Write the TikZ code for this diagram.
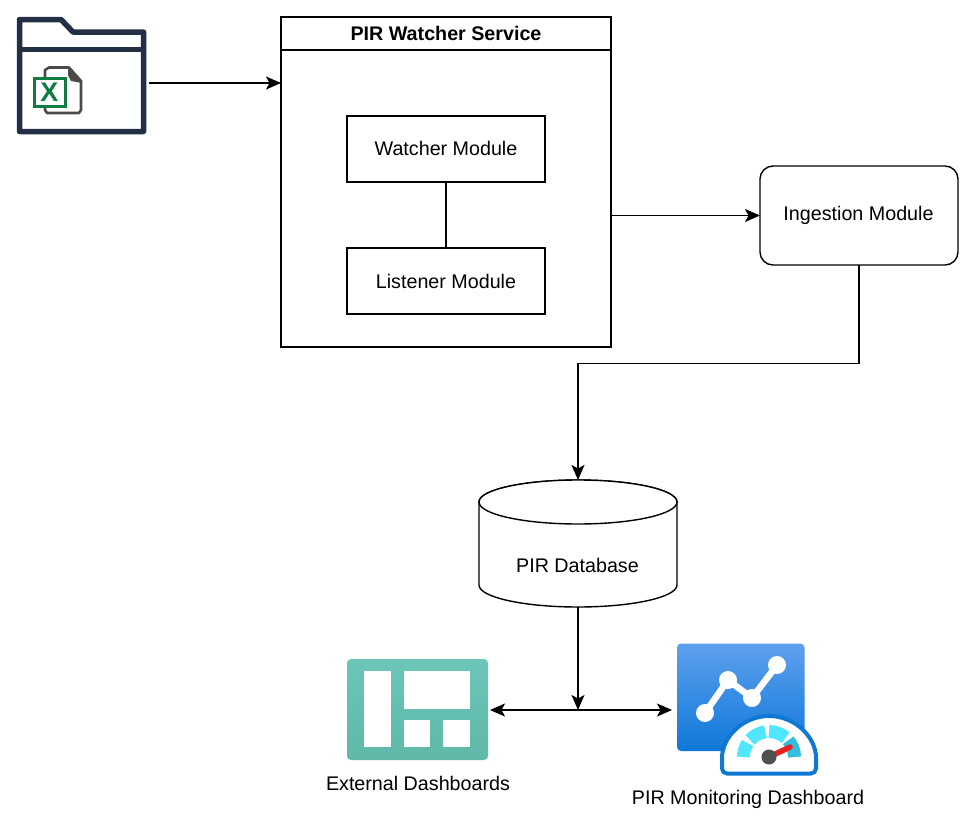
\documentclass[tikz,border=0pt]{standalone}
\usepackage{fontspec}
\setmainfont{Liberation Sans}
\usetikzlibrary{arrows.meta,calc}
\definecolor{fold}{HTML}{232F45}
\definecolor{xlgreen}{HTML}{107C41}
\definecolor{xlgrey}{HTML}{4A4A48}
\definecolor{teal1}{HTML}{6CC7B8}
\definecolor{teal2}{HTML}{5FB8A8}
\definecolor{blue1}{HTML}{5EA0EF}
\definecolor{blue2}{HTML}{0F78D8}
\definecolor{gblue}{HTML}{0F78D4}
\definecolor{gcyan}{HTML}{50E6FF}
\definecolor{gcyan2}{HTML}{32BEDD}
\definecolor{gdark}{HTML}{505050}
\definecolor{gred}{HTML}{E62323}
\tikzset{
  txt/.style={font=\fontsize{19.7}{24}\selectfont, text=black},
  boxn/.style={draw=black, line width=1.4pt, fill=white, inner sep=0pt, outer sep=0pt, txt},
  ghost/.style={inner sep=0pt, outer sep=0pt},
  conn/.style={draw=black, line width=1.4pt},
  arr/.style={conn, -{Stealth[length=15pt,width=13pt,inset=3.5pt]}},
  darr/.style={conn, {Stealth[length=15pt,width=13pt,inset=3.5pt]}-{Stealth[length=15pt,width=13pt,inset=3.5pt]}},
  seg/.style={line width=13pt},
}
\begin{document}
\begin{tikzpicture}[x=1pt,y=-1pt]
\useasboundingbox (0,0) rectangle (975,828);

% folder icon
\node[ghost, minimum width=132, minimum height=117] (folder) at (81.5,75.5) {};
\draw[fold, line width=5.5pt, line join=round]
  (19.5,19.5) -- (61,19.5) -- (73,32) -- (143.5,32) -- (143.5,131.5) -- (19.5,131.5) -- cycle;
\draw[fold, line width=5.5pt] (19.5,49.5) -- (143.5,49.5);
\draw[xlgrey, line width=2.6pt, line join=round, fill=white]
  (49,67.5) -- (69,67.5) -- (81,81) -- (81,110) -- (79,113) -- (47,113) -- (45,110) -- (45,70) -- cycle;
\fill[xlgrey] (68,67) -- (82,81) -- (82,83) -- (71,81) -- (68,75) -- cycle;
\draw[xlgreen, line width=3pt, fill=white] (34.5,78) rectangle (65,106.5);
\node[ghost, font=\fontsize{27}{27}\selectfont\bfseries, text=xlgreen] (xl) at (49.5,92) {X};

% service
\node[boxn, minimum width=330, minimum height=330] (service) at (446,182) {};
\node[boxn, minimum width=330, minimum height=33, font=\fontsize{19.7}{24}\selectfont\bfseries] (title) at (446,33.5) {PIR Watcher Service};
\node[boxn, minimum width=198, minimum height=66] (watcher) at (446,149) {\raisebox{1pt}{Watcher Module}};
\node[boxn, minimum width=198, minimum height=66] (listener) at (446,281) {Listener Module};
\node[boxn, rounded corners=13pt, minimum width=198, minimum height=99] (ingest) at (859,215.5) {\hspace{-1pt}Ingestion Module};

% database
\node[ghost, minimum width=198, minimum height=127] (db) at (578,543.5) {};
\draw[black, line width=1.4pt, fill=white]
  (db.north west |- 0,502) arc[start angle=180, end angle=360, x radius=99, y radius=22]
  -- (db.south east |- 0,585) arc[start angle=0, end angle=180, x radius=99, y radius=22] -- cycle;
\draw[black, line width=1.4pt, fill=white] (578,502) ellipse[x radius=99, y radius=22];
\node[ghost, txt] (dblabel) at (577.5,565.5) {PIR Database};

% external dashboards icon
\node[ghost, minimum width=141, minimum height=101] (extd) at (417.5,709.5) {};
\shade[top color=teal1, bottom color=teal2, rounded corners=4pt] (347,659) rectangle (488,760);
\fill[white] (364,671) rectangle (391,747);
\fill[white] (404,671) rectangle (470,709);
\fill[white] (404,720) rectangle (430,747);
\fill[white] (443,720) rectangle (470,747);
\node[ghost, txt] (extlabel) at (418,783.5) {External Dashboards};

% monitoring icon
\node[ghost, minimum width=128, minimum height=108] (mond) at (740.5,697) {};
\shade[top color=blue1, bottom color=blue2, rounded corners=4pt] (677,643.5) rectangle (804.5,751);
\draw[white, line width=6.5pt, line join=round] (705,713) -- (728,680) -- (752,698) -- (777,665);
\foreach \p in {(705,713),(728,680),(752,698),(777,665)} \fill[white] \p circle[radius=9];
% gauge
\draw[gblue, line width=4pt, fill=white, rounded corners=5pt]
  (722,763) arc[start angle=-180, end angle=0, radius=47]
  -- (816,773.5) -- (722,773.5) -- cycle;
\coordinate (hub) at (769,757);
\draw[gcyan, seg] ($(hub)+(-180:25.5)$) arc[start angle=-180,end angle=-147,radius=25.5];
\draw[gcyan, seg] ($(hub)+(-138:25.5)$) arc[start angle=-138,end angle=-98,radius=25.5];
\draw[gcyan, seg] ($(hub)+(-90:25.5)$) arc[start angle=-90,end angle=-49,radius=25.5];
\draw[gcyan2, seg] ($(hub)+(-41:25.5)$) arc[start angle=-41,end angle=0,radius=25.5];
\draw[gred, line width=5.5pt, line cap=round] (hub) -- (790,747);
\fill[gdark] (hub) circle[radius=7.5];
\node[ghost, txt] (monlabel) at (748,799) {PIR Monitoring Dashboard};

% connectors
\coordinate (fout) at (149,83);
\coordinate (jct) at (578,710);
\draw[arr] (fout) -- (fout -| service.west);
\draw[arr] (service.east |- ingest.west) -- (ingest.west);
\draw[conn] (watcher) -- (listener);
\draw[arr] (ingest.south) -- (859,363.5) -- (578,363.5) -- (db.north);
\draw[arr] (db.south) -- (jct);
\draw[darr] (490,710) -- (672,710);
\end{tikzpicture}
\end{document}
